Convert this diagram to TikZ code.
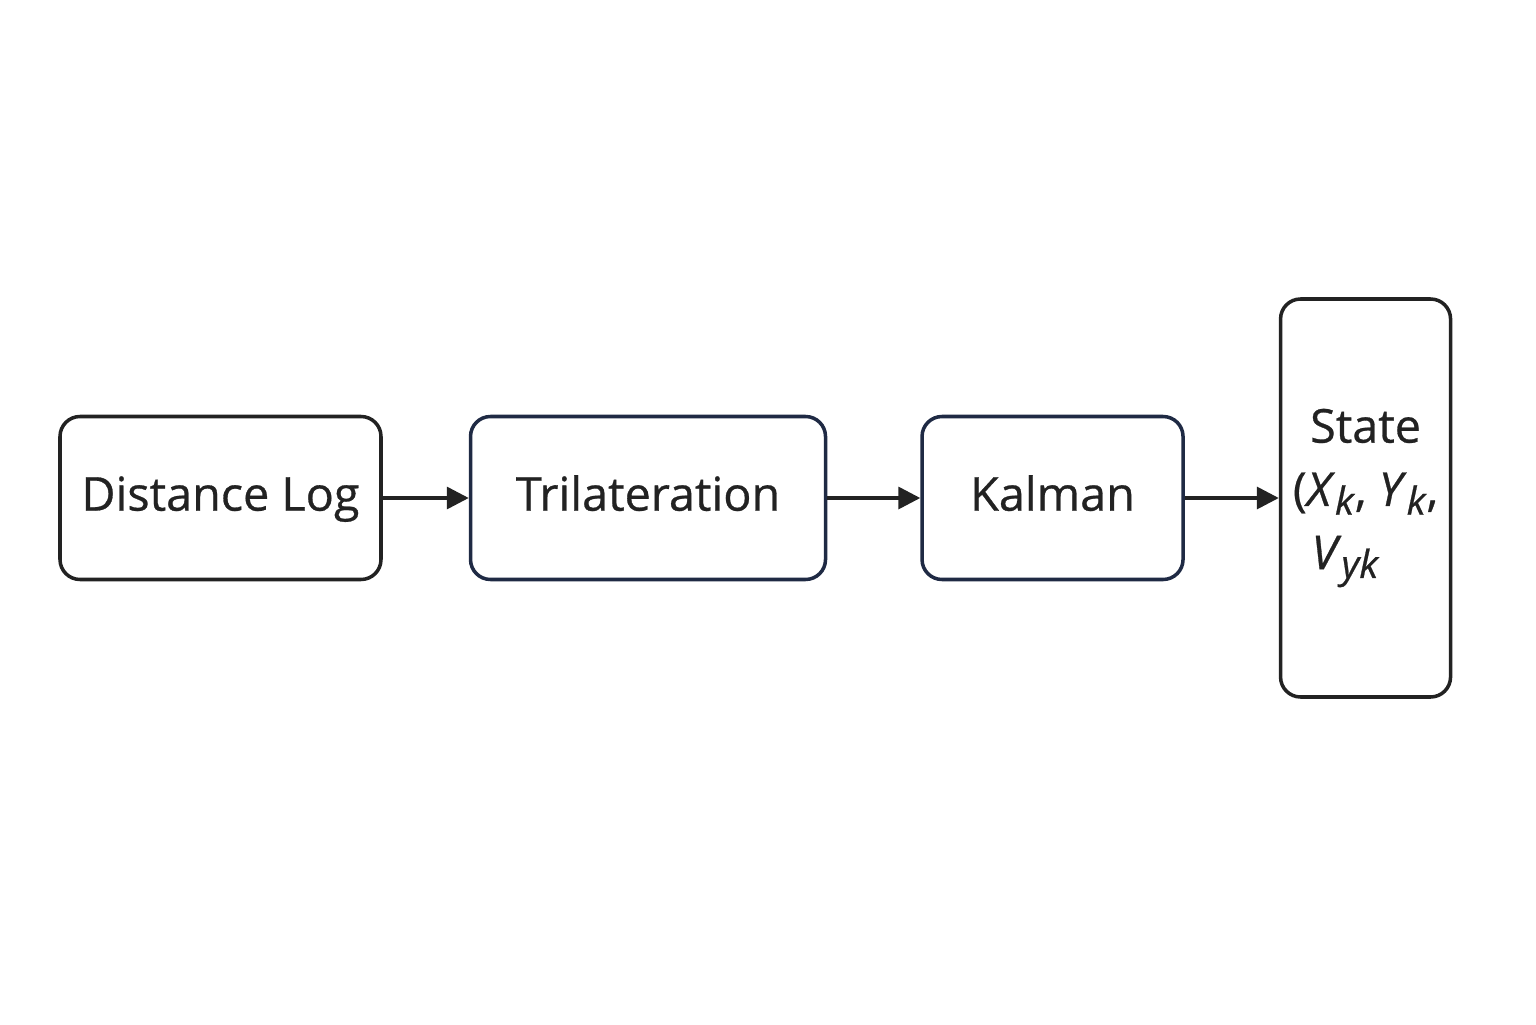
\documentclass[tikz,border=0pt]{standalone}
\usepackage{fontspec}
\setmainfont[FakeBold=0.6]{Open Sans}
\usetikzlibrary{arrows.meta,positioning}
\definecolor{ink}{HTML}{222222}
\definecolor{navy}{HTML}{1F2A44}
\tikzset{
  box/.style={draw=ink, rounded corners=2mm, line width=1pt, fill=white, align=center, inner sep=0pt, minimum height=16.3mm, font=\fontsize{13.3}{18}\selectfont, text=ink},
  flowbox/.style={box, text height=0.72em, text depth=0pt},
  navybox/.style={flowbox, draw=navy},
  arrow/.style={-{Triangle[length=2.2mm,width=2.2mm]}, line width=1pt, draw=ink}
}
\newcommand{\sym}[2]{\textit{#1}\raisebox{-0.35ex}{\fontsize{11}{12}\selectfont\textit{#2}}}

\begin{document}
\begin{tikzpicture}[node distance=9.5mm]
\useasboundingbox (0,0) rectangle (15.36,10.24);
\node[flowbox, minimum width=32.1mm] (dlog) at (2.205,5.26) {Distance Log};
\node[navybox, right=8.6mm of dlog, minimum width=35.5mm] (tri) {Trilateration};
\node[navybox, right=9.3mm of tri, minimum width=26.1mm] (kal) {Kalman};
\node[box, right=9.4mm of kal, minimum width=17mm, minimum height=39.8mm] (state) {State\\(\sym{X}{k}, \sym{Y}{k},\\\makebox[10.8mm][l]{\sym{V}{yk}}};
\draw[arrow] (dlog)--(tri); \draw[arrow] (tri)--(kal); \draw[arrow] (kal)--(state);
\end{tikzpicture}
\end{document}
